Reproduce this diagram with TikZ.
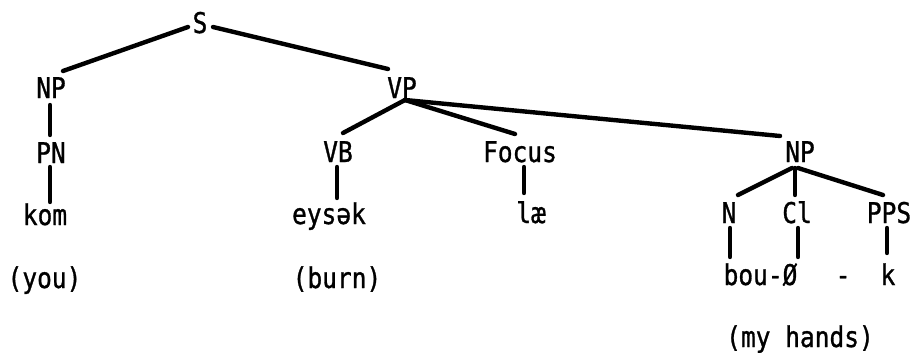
\documentclass[tikz,border=0pt]{standalone}
\usepackage{fontspec}
\setmonofont[FakeBold=1,FakeStretch=0.86]{DejaVu Sans Mono}
\usetikzlibrary{calc}
\tikzset{
  lbl/.style={anchor=base, inner sep=0pt, font=\ttfamily\fontsize{28.5}{34}\selectfont},
  edge/.style={line width=4.4pt, line cap=round}
}
\begin{document}
\begin{tikzpicture}[x=1pt,y=-1pt]
\useasboundingbox (0,0) rectangle (915,353);
% nodes (base points, y downward in px)
\node[lbl] (S)   at (200,33)  {S};
\node[lbl] (NPl) at (51,98)   {NP};
\node[lbl] (VP)  at (402,98)  {VP};
\node[lbl] (PN)  at (51,163)  {PN};
\node[lbl] (VB)  at (338,162) {VB};
\node[lbl] (Foc) at (520,162) {Focus};
\node[lbl] (NPr) at (800,162) {NP};
\node[lbl] (kom) at (45,225)  {kom};
\node[lbl] (eys) at (329,224) {eysək};
\node[lbl] (lae) at (531,223) {læ};
\node[lbl] (N)   at (729,223) {N};
\node[lbl] (Cl)  at (797,223) {Cl};
\node[lbl] (PPS) at (889,223) {PPS};
\node[lbl] (bou) at (760.5,285) {bou-Ø};
\node[lbl] (dsh) at (843,285) {-};
\node[lbl] (k)   at (888,285) {k};
\node[lbl] (you) at (44.5,288) {(you)};
\node[lbl] (burn) at (337,288) {(burn)};
\node[lbl] (hands) at (800,347) {(my hands)};
% connectors
\draw[edge] ($(S.base)+(-12,-6)$) -- ($(NPl.base)+(12,-27)$);
\draw[edge] ($(S.base)+(13,-6)$) -- ($(VP.base)+(-14,-29)$);
\draw[edge] ($(NPl.base)+(-1,7)$) -- ($(PN.base)+(-1,-28)$);
\draw[edge] ($(PN.base)+(-1,4)$) -- ($(kom.base)+(5,-23)$);
\draw[edge] ($(VP.base)+(3,2)$) -- ($(VB.base)+(5,-29)$);
\draw[edge] ($(VP.base)+(3,2)$) -- ($(Foc.base)+(-5,-28)$);
\draw[edge] ($(VP.base)+(3,2)$) -- ($(NPr.base)+(-20,-26)$);
\draw[edge] ($(VB.base)+(-1,5)$) -- ($(eys.base)+(8,-26)$);
\draw[edge] ($(Foc.base)+(4,5)$) -- ($(lae.base)+(-7,-30)$);
\draw[edge] ($(NPr.base)+(-8,6)$) -- ($(N.base)+(9,-28)$);
\draw[edge] ($(NPr.base)+(-5,6)$) -- ($(Cl.base)+(-2,-28)$);
\draw[edge] ($(NPr.base)+(-2,6)$) -- ($(PPS.base)+(-6,-28)$);
\draw[edge] ($(N.base)+(1,5)$) -- ($(bou.base)+(-30.5,-28)$);
\draw[edge] ($(Cl.base)+(1,5)$) -- ($(bou.base)+(37.5,-28)$);
\draw[edge] ($(PPS.base)+(-2,5)$) -- ($(k.base)+(-1,-32)$);
\end{tikzpicture}
\end{document}
